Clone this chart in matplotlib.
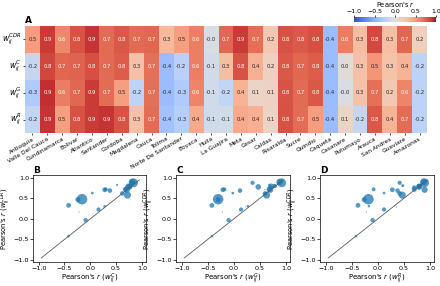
import numpy as np
import matplotlib
matplotlib.use("Agg")
import matplotlib.pyplot as plt
import seaborn as sns

departments = ["Antioquia", "Valle Del Cauca", "Cundinamarca", "Bolivar", "Atlantico",
               "Santander", "Cordoba", "Magdalena", "Cauca", "Tolima",
               "Norte De Santander", "Boyaca", "Huila", "La Guajira", "Meta", "Cesar",
               "Caldas", "Risaralda", "Sucre", "Quindio", "Caqueta", "Casanare",
               "Putumayo", "Arauca", "San Andres", "Guaviare", "Amazonas"]

r_cdr = [0.48, 0.88, 0.58, 0.79, 0.90, 0.71, 0.78, 0.71, 0.72, 0.33, 0.47, 0.62, -0.03,
         0.72, 0.88, 0.69, 0.23, 0.80, 0.77, 0.81, -0.42, 0.63, 0.31, 0.83, 0.29, 0.72, 0.17]
r_c = [-0.16, 0.84, 0.72, 0.74, 0.81, 0.71, 0.76, 0.28, 0.68, -0.42, -0.24, 0.62, -0.09,
       0.30, 0.80, 0.38, 0.16, 0.78, 0.72, 0.76, -0.42, 0.04, 0.28, 0.52, 0.26, 0.36, -0.22]
r_g = [-0.30, 0.92, 0.63, 0.72, 0.88, 0.70, 0.47, -0.21, 0.68, -0.42, -0.30, 0.60, -0.10,
       -0.18, 0.36, 0.12, 0.14, 0.79, 0.71, 0.78, -0.42, -0.02, 0.27, 0.68, 0.22, 0.60, -0.22]
r_r = [-0.18, 0.90, 0.47, 0.80, 0.88, 0.90, 0.79, 0.28, 0.70, -0.38, -0.26, 0.42, -0.10,
       -0.08, 0.42, 0.38, 0.12, 0.80, 0.70, 0.48, -0.42, 0.12, -0.17, 0.78, 0.36, 0.70, -0.22]
population = [6.4, 4.5, 2.9, 2.1, 2.5, 2.2, 1.8, 1.3, 1.5, 1.3, 1.5, 1.2, 1.1, 0.88, 1.0,
              1.2, 0.99, 0.94, 0.9, 0.54, 0.40, 0.42, 0.35, 0.26, 0.06, 0.08, 0.08]

row_labels = [r"$w_{ij}^{CDR}$", r"$w_{ij}^{C}$", r"$w_{ij}^{G}$", r"$w_{ij}^{R}$"]

W, H = 440, 286
fig = plt.figure(figsize=(W / 100, H / 100), dpi=100)

def ax_px(l, t, r, b):
    return fig.add_axes([l / W, 1 - b / H, (r - l) / W, (b - t) / H])

ax_hm = ax_px(25, 26, 427, 133)
cax = ax_px(354, 17, 436, 22)

mat = np.array([r_cdr, r_c, r_g, r_r])
sns.heatmap(mat, ax=ax_hm, cmap="coolwarm", vmin=-1, vmax=1, annot=True, fmt=".1f",
            annot_kws={"fontsize": 3.8}, cbar_ax=cax,
            cbar_kws={"orientation": "horizontal"},
            xticklabels=departments, yticklabels=row_labels)
ax_hm.set_xticklabels(departments, rotation=30, ha="right", rotation_mode="anchor",
                      fontsize=4.2)
ax_hm.set_yticklabels(row_labels, rotation=0, fontsize=5.5)
ax_hm.tick_params(axis="both", length=1.5, width=0.5, pad=1)
ax_hm.text(0.0, 1.01, "A", transform=ax_hm.transAxes, fontsize=6.5, fontweight="bold",
           va="bottom", ha="left")

cax.xaxis.set_ticks_position("top")
cax.xaxis.set_label_position("top")
cax.set_xticks([-1.0, -0.5, 0.0, 0.5, 1.0])
cax.tick_params(labelsize=4.5, length=1.5, width=0.5, pad=0.5)
cax.set_xlabel("Pearson's $r$", fontsize=4.8, labelpad=1.5)
for s in cax.spines.values():
    s.set_visible(False)

panels = [("B", r_c, "C", (33, 146)), ("C", r_g, "G", (176, 290)), ("D", r_r, "R", (320, 434))]
sizes = np.array(population) * 9
for letter, xs, sup, (l, r) in panels:
    ax = ax_px(l, 175, r, 262)
    ax.plot([-0.95, 0.95], [-0.95, 0.95], color="0.35", lw=0.6, zorder=3)
    ax.scatter(xs, r_cdr, s=sizes, color="#1f77b4", alpha=0.75, edgecolors="none", zorder=2)
    ax.set_xlim(-1.11, 1.08)
    ax.set_ylim(-1.05, 1.07)
    ax.set_xticks([-1.0, -0.5, 0.0, 0.5, 1.0])
    ax.set_yticks([-1.0, -0.5, 0.0, 0.5, 1.0])
    ax.tick_params(labelsize=4.6, length=2, width=0.5, pad=0.8)
    for s in ax.spines.values():
        s.set_linewidth(0.5)
    ax.set_xlabel("Pearson's $r$ ($w_{ij}^{%s}$)" % sup, fontsize=5.0, labelpad=0.3)
    ax.set_ylabel("Pearson's $r$ ($w_{ij}^{CDR}$)", fontsize=4.9, labelpad=0.3)
    ax.text(0.0, 1.0, letter, transform=ax.transAxes, fontsize=6.5, fontweight="bold",
            va="bottom", ha="left")

fig.savefig("out.png", dpi=100)
